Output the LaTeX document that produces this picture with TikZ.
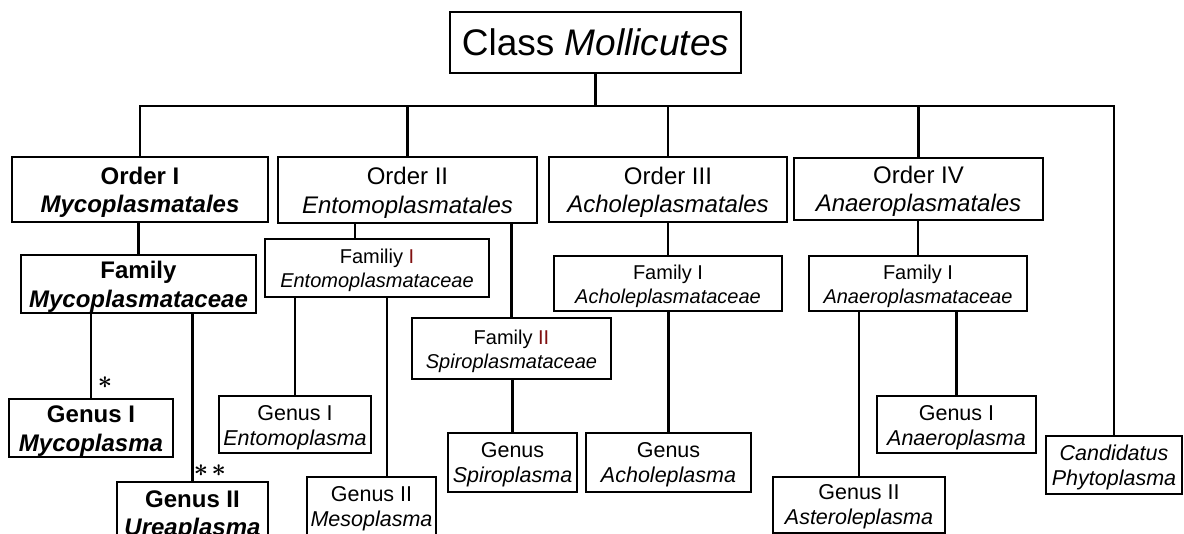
\documentclass[tikz,border=0pt]{standalone}
\usepackage{amsmath}
\usepackage{fontspec}
\setmainfont{Liberation Sans}
\definecolor{dred}{RGB}{128,16,16}
\newcommand\dn[2]{\raisebox{-#1pt}[\height][\depth]{#2}}
\begin{document}
\begin{tikzpicture}[x=1pt,y=-1pt,
  box/.style={draw, line width=2.6pt, inner sep=0pt, align=center, fill=white},
  big/.style={font=\fontsize{37}{40}\selectfont},
  ordf/.style={font=\fontsize{24}{28.5}\selectfont},
  bordf/.style={font=\bfseries\fontsize{24}{28.5}\selectfont},
  famf/.style={font=\fontsize{20}{24}\selectfont},
  genf/.style={font=\fontsize{21.5}{25}\selectfont},
  conn/.style={line width=2.6pt, line cap=rect},
  star/.style={inner sep=0pt, font=\fontsize{25}{25}\selectfont}]
\useasboundingbox (0,0) rectangle (1184,534);
\clip (0,0) rectangle (1184,534);
\coordinate (bus) at (0,106);
% nodes
\node[box,big, minimum width=291, minimum height=61] (class) at (595.5,42.5) {Class \textit{Mollicutes}};
\node[box,bordf, minimum width=256, minimum height=65] (ordI) at (140,189.5) {\dn{3}{Order I}\\\dn{3}{\textit{Mycoplasmatales}}};
\node[box,ordf, minimum width=259, minimum height=66] (ordII) at (407.5,190) {\dn{3}{Order II}\\\dn{3}{\textit{Entomoplasmatales}}};
\node[box,ordf, minimum width=238, minimum height=65] (ordIII) at (668,189.5) {\dn{3}{Order III}\\\dn{3}{\textit{Acholeplasmatales}}};
\node[box,ordf, minimum width=249, minimum height=62] (ordIV) at (918.5,189) {\dn{2.5}{Order IV}\\\dn{2.5}{\textit{Anaeroplasmatales}}};
\node[box,bordf, minimum width=235, minimum height=58] (famM) at (138.5,284) {\dn{3}{Family}\\\dn{3}{\textit{Mycoplasmataceae}}};
\node[box,famf, minimum width=224, minimum height=58] (famE) at (377,268) {\dn{2.5}{Familiy \textcolor{dred}{I}}\\\dn{2.5}{\textit{Entomoplasmataceae}}};
\node[box,famf, minimum width=199, minimum height=61] (famS) at (511.5,348.5) {\dn{2.5}{Family \textcolor{dred}{II}}\\\dn{2.5}{\textit{Spiroplasmataceae}}};
\node[box,famf, minimum width=228, minimum height=55] (famA) at (668,283.5) {\dn{2.5}{Family I}\\\dn{2.5}{\textit{Acholeplasmataceae}}};
\node[box,famf, minimum width=218, minimum height=55] (famN) at (918,283.5) {\dn{2.5}{Family I}\\\dn{2.5}{\textit{Anaeroplasmataceae}}};
\node[box,bordf, minimum width=164, minimum height=58] (genMy) at (91,428) {\dn{3}{Genus I}\\\dn{3}{\textit{Mycoplasma}}};
\node[box,bordf, minimum width=151, minimum height=63] (genU) at (192.5,513.5) {\dn{2}{Genus II}\\\dn{2}{\textit{Ureaplasma}}};
\node[box,genf, minimum width=152, minimum height=57] (genEn) at (295,424.5) {\dn{3}{Genus I}\\\dn{3}{\textit{Entomoplasma}}};
\node[box,genf, minimum width=129, minimum height=60] (genMe) at (371.5,507) {\dn{2}{Genus II}\\\dn{2}{\textit{Mesoplasma}}};
\node[box,genf, minimum width=129, minimum height=59] (genS) at (512.5,462.5) {\dn{2.5}{Genus}\\\dn{2.5}{\textit{Spiroplasma}}};
\node[box,genf, minimum width=165, minimum height=59] (genAc) at (668.5,462.5) {\dn{2.5}{Genus}\\\dn{2.5}{\textit{Acholeplasma}}};
\node[box,genf, minimum width=172, minimum height=56] (genAs) at (859,505) {\dn{2}{Genus II}\\\dn{2}{\textit{Asteroleplasma}}};
\node[box,genf, minimum width=159, minimum height=57] (genAn) at (956.5,424.5) {\dn{3}{Genus I}\\\dn{3}{\textit{Anaeroplasma}}};
\node[box,genf, minimum width=136, minimum height=58] (cand) at (1114,465) {\dn{2}{\textit{Candidatus}}\\\dn{2}{\textit{Phytoplasma}}};
% connectors
\draw[conn] (class.south) -- (class.south |- bus);
\draw[conn] (ordI.north |- bus) -- (cand.north |- bus);
\draw[conn] (ordI.north) -- (ordI.north |- bus);
\draw[conn] (ordII.north) -- (ordII.north |- bus);
\draw[conn] (ordIII.north) -- (ordIII.north |- bus);
\draw[conn] (ordIV.north) -- (ordIV.north |- bus);
\draw[conn] (cand.north) -- (cand.north |- bus);
\draw[conn] (famM.north) -- (famM.north |- ordI.south);
\draw[conn] ([xshift=-52.5pt]ordII.south) -- ([xshift=-52.5pt]ordII.south |- famE.north);
\draw[conn] (famS.north) -- (famS.north |- ordII.south);
\draw[conn] (famA.north) -- (famA.north |- ordIII.south);
\draw[conn] (famN.north) -- (famN.north |- ordIV.south);
\draw[conn] (genMy.north) -- (genMy.north |- famM.south);
\draw[conn] (genU.north) -- (genU.north |- famM.south);
\draw[conn] (genEn.north) -- (genEn.north |- famE.south);
\draw[conn] ([xshift=15.5pt]genMe.north) -- ([xshift=15.5pt]genMe.north |- famE.south);
\draw[conn] (genS.north) -- (genS.north |- famS.south);
\draw[conn] (genAc.north) -- (genAc.north |- famA.south);
\draw[conn] (genAs.north) -- (genAs.north |- famN.south);
\draw[conn] (genAn.north) -- (genAn.north |- famN.south);
\node[star] (s1) at (105,383) {$\boldsymbol{\ast}$};
\node[star] (s2) at (210,471) {${\boldsymbol{\ast}}\hspace{3.5pt}{\boldsymbol{\ast}}$};
\end{tikzpicture}
\end{document}
